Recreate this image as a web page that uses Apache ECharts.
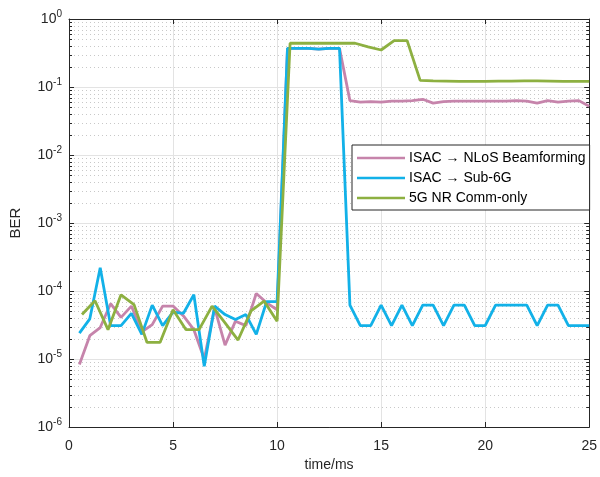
<!DOCTYPE html>
<html><head><meta charset="utf-8">
<script src="https://cdn.jsdelivr.net/npm/echarts@6/dist/echarts.min.js"></script>
<style>html,body{margin:0;padding:0;background:#fff}#c{width:600px;height:477px}</style>
</head><body><div id="c"></div>
<script>
// ---- data ----
const seriesNames = ['ISAC \u2192 NLoS Beamforming', 'ISAC \u2192 Sub-6G', '5G NR Comm-only'];
const timeIsac = [0.5,1,1.5,2,2.5,3,3.5,4,4.5,5,5.5,6,6.5,7,7.5,8,8.5,9,9.5,10,
  10.5,11,11.5,12,12.5,13,13.5,14,14.5,15,15.5,16,16.5,17,17.5,18,18.5,19,19.5,20,
  20.5,21,21.5,22,22.5,23,23.5,24,24.5,25];
const berNlos = [8.3e-6,2.2e-5,2.9e-5,6.5e-5,4.1e-5,6.0e-5,2.5e-5,3.2e-5,6.0e-5,6.0e-5,
  4.3e-5,2.7e-5,1.0e-5,5.6e-5,1.6e-5,3.6e-5,3.1e-5,9.2e-5,6.7e-5,5.3e-5,
  0.37,0.37,0.37,0.36,0.37,0.37,0.063,0.060,0.061,0.060,0.062,0.062,0.063,0.066,0.058,0.061,0.062,0.062,0.062,0.062,
  0.062,0.062,0.063,0.062,0.058,0.063,0.060,0.062,0.063,0.052];
const berSub6 = [2.4e-5,3.9e-5,2.2e-4,3.1e-5,3.1e-5,4.7e-5,2.3e-5,6.2e-5,3.1e-5,4.9e-5,
  4.7e-5,8.8e-5,7.8e-6,6.0e-5,4.5e-5,3.8e-5,4.5e-5,2.3e-5,7.0e-5,7.0e-5,
  0.37,0.37,0.37,0.36,0.37,0.37,6.2e-5,3.1e-5,3.1e-5,6.2e-5,3.1e-5,6.2e-5,3.1e-5,6.2e-5,6.2e-5,3.1e-5,6.2e-5,6.2e-5,3.1e-5,3.1e-5,
  6.2e-5,6.2e-5,6.2e-5,6.2e-5,3.1e-5,6.2e-5,6.2e-5,3.1e-5,3.1e-5,3.1e-5];
const timeComm = [0.625,1.25,1.875,2.5,3.125,3.75,4.375,5,5.625,6.25,6.875,7.5,8.125,8.75,9.375,10,
  10.625,11.25,11.875,12.5,13.125,13.75,14.375,15,15.625,16.25,16.875,17.5,18.125,18.75,19.375,20,
  20.625,21.25,21.875,22.5,23.125,23.75,24.375,25];
const berComm = [4.5e-5,7.2e-5,2.7e-5,8.8e-5,6.3e-5,1.75e-5,1.75e-5,5.3e-5,2.7e-5,2.7e-5,6.0e-5,3.4e-5,1.9e-5,5.1e-5,7.1e-5,3.6e-5,
  0.44,0.44,0.44,0.44,0.44,0.44,0.39,0.35,0.48,0.48,0.125,0.123,0.122,0.121,0.121,0.121,
  0.122,0.122,0.123,0.123,0.122,0.121,0.121,0.121];
const xTicks = [0,5,10,15,20,25];
const yDecades = [-6,-5,-4,-3,-2,-1,0];
const minorMantissas = [2,3,4,5,6,7,8,9];
const colors = ['#c684ab', '#12b1e8', '#8db041'];

// ---- chart ----
const FONT = '"Liberation Sans", Arial, Helvetica, sans-serif';
const AX = '#262626';
const xMin = xTicks[0], xMax = xTicks[xTicks.length - 1];
const yMin = Math.pow(10, yDecades[0]), yMax = Math.pow(10, yDecades[yDecades.length - 1]);
const minorData = [];
for (let i = 0; i < yDecades.length - 1; i++) {
  for (const m of minorMantissas) minorData.push([xMin, m * Math.pow(10, yDecades[i])]);
}
const zip = (xs, ys) => xs.map((x, i) => [x, ys[i]]);

const chart = echarts.init(document.getElementById('c'), null, {renderer: 'canvas'});
const lineSeries = (name, xs, ys, color, z) => ({
  name, type: 'line', data: zip(xs, ys), symbol: 'none', smooth: false,
  lineStyle: {color, width: 2.8}, itemStyle: {color}, z, animation: false
});
chart.setOption({
  animation: false,
  textStyle: {fontFamily: FONT},
  grid: {left: 69, right: 10, top: 19, bottom: 45, containLabel: false},
  legend: {
    data: seriesNames, orient: 'vertical', left: 352, top: 145,
    padding: [6, 4, 5, 5], itemGap: 6, itemWidth: 48, itemHeight: 14,
    backgroundColor: '#fff', borderColor: AX, borderWidth: 1,
    textStyle: {fontSize: 14, color: '#000', fontFamily: FONT, padding: [0, 0, 0, -1]},
    icon: 'path://M0,6 L48,6 L48,8.6 L0,8.6 Z'
  },
  xAxis: [{
    type: 'value', min: xMin, max: xMax, interval: 5, position: 'bottom',
    name: 'time/ms', nameLocation: 'middle', nameGap: 31,
    nameTextStyle: {fontSize: 14, color: '#262626', fontFamily: FONT},
    axisLine: {show: true, lineStyle: {color: AX, width: 1}},
    axisTick: {show: true, inside: true, length: 5, lineStyle: {color: AX}},
    axisLabel: {fontSize: 14, color: '#262626', margin: 12, fontFamily: FONT},
    splitLine: {show: true, lineStyle: {color: '#e3e3e3', width: 1}}
  }, {
    type: 'value', min: xMin, max: xMax, interval: 5, position: 'top',
    axisLine: {show: true, onZero: false, lineStyle: {color: AX, width: 1}},
    axisTick: {show: true, inside: true, length: 5, lineStyle: {color: AX}},
    axisLabel: {show: false}, splitLine: {show: false}
  }],
  yAxis: [{
    type: 'log', logBase: 10, min: yMin, max: yMax, splitNumber: 6, position: 'left',
    name: 'BER', nameLocation: 'middle', nameGap: 46,
    nameTextStyle: {fontSize: 15, color: '#262626', fontFamily: FONT},
    axisLine: {show: true, lineStyle: {color: AX, width: 1}},
    axisTick: {show: true, inside: true, length: 5, lineStyle: {color: AX}},
    axisLabel: {
      margin: 7, color: '#262626',
      formatter: v => '{b|10}{s|' + Math.round(Math.log10(v)) + '}',
      rich: {
        b: {fontSize: 14, color: '#262626', fontFamily: FONT},
        s: {fontSize: 10, color: '#262626', fontFamily: FONT, padding: [0, 0, 10, 0]}
      }
    },
    splitLine: {show: true, lineStyle: {color: '#e3e3e3', width: 1}}
  }, {
    type: 'log', logBase: 10, min: yMin, max: yMax, splitNumber: 6, position: 'right',
    axisLine: {show: true, onZero: false, lineStyle: {color: AX, width: 1}},
    axisTick: {show: true, inside: true, length: 5, lineStyle: {color: AX}},
    axisLabel: {show: false}, splitLine: {show: false}
  }],
  series: [
    {
      type: 'custom', name: 'minor', data: minorData, encode: {x: 0, y: 1}, z: 1,
      silent: true, clip: false,
      renderItem: (params, api) => {
        const v = api.value(1);
        const a = api.coord([xMin, v]);
        const b = api.coord([xMax, v]);
        const y = Math.round(a[1]) + 0.5;
        return {type: 'group', children: [
          {type: 'line', shape: {x1: a[0] + 1, y1: y, x2: b[0] - 1, y2: y},
            style: {stroke: '#c8c8c8', lineWidth: 1, lineDash: [1, 3]}},
          {type: 'line', shape: {x1: a[0], y1: y, x2: a[0] + 3, y2: y}, style: {stroke: AX, lineWidth: 1}},
          {type: 'line', shape: {x1: b[0] - 3, y1: y, x2: b[0], y2: y}, style: {stroke: AX, lineWidth: 1}}
        ]};
      }
    },
    lineSeries(seriesNames[0], timeIsac, berNlos, colors[0], 3),
    lineSeries(seriesNames[1], timeIsac, berSub6, colors[1], 4),
    lineSeries(seriesNames[2], timeComm, berComm, colors[2], 5)
  ]
});
</script>
</body></html>
